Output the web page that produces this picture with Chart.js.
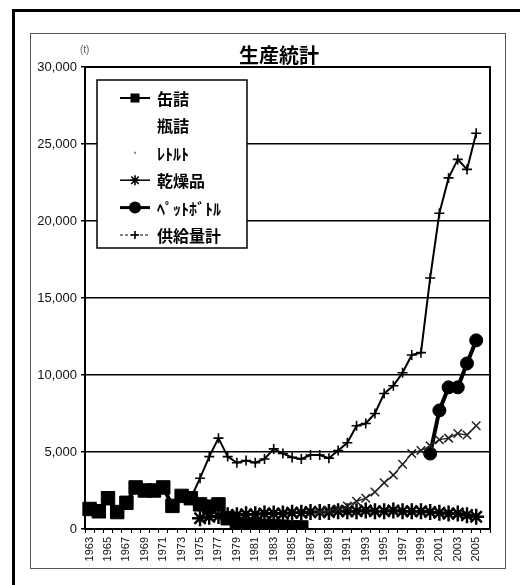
<!DOCTYPE html>
<html lang="ja">
<head>
<meta charset="utf-8">
<title>生産統計</title>
<script src="https://cdn.jsdelivr.net/npm/chart.js@4.4.1/dist/chart.umd.min.js"></script>
<style>
  html, body { margin: 0; padding: 0; background: #fff; }
  #chart { display: block; }
</style>
</head>
<body>
<canvas id="chart" width="520" height="585"></canvas>
<script>
// ═══════════════════════════════════════════════════════════
//  Data (t), 1963 - 2006
// ═══════════════════════════════════════════════════════════

var years = [
    '1963', '1964', '1965', '1966', '1967', '1968', '1969', '1970', '1971', '1972',
    '1973', '1974', '1975', '1976', '1977', '1978', '1979', '1980', '1981', '1982',
    '1983', '1984', '1985', '1986', '1987', '1988', '1989', '1990', '1991', '1992',
    '1993', '1994', '1995', '1996', '1997', '1998', '1999', '2000', '2001', '2002',
    '2003', '2004', '2005', '2006'
];

var seriesNames = ['缶詰', '瓶詰', 'ﾚﾄﾙﾄ', '乾燥品', 'ﾍﾟｯﾄﾎﾞﾄﾙ', '供給量計'];

var canned = [
    1300, 1150, 2000, 1100, 1700, 2700, 2500, 2500, 2700, 1500,
    2150, 2000, 1600, 1450, 1600, 700, 300, 250, 250, 200,
    200, 150, 100, 100, null, null, null, null, null, null,
    null, null, null, null, null, null, null, null, null, null,
    null, null, null, null
];

// 瓶詰: line did not survive in the picture
var bottled = [
    null, null, null, null, null, null, null, null, null, null,
    null, null, null, null, null, null, null, null, null, null,
    null, null, null, null, null, null, null, null, null, null,
    null, null, null, null, null, null, null, null, null, null,
    null, null, null, null
];

var retort = [
    null, null, null, null, null, null, null, null, null, null,
    null, null, null, null, null, null, null, null, null, null,
    null, null, null, null, null, 1100, 1200, 1300, 1500, 1800,
    2000, 2400, 3000, 3500, 4200, 4900, 5100, 5400, 5800, 5900,
    6200, 6100, 6700, null
];

var dried = [
    null, null, null, null, null, null, null, null, null, null,
    null, null, 700, 800, 850, 900, 900, 950, 950, 1000,
    1000, 1000, 1050, 1050, 1100, 1100, 1100, 1150, 1150, 1150,
    1200, 1150, 1150, 1200, 1150, 1150, 1150, 1100, 1050, 1000,
    1000, 900, 800, null
];

var petBottle = [
    null, null, null, null, null, null, null, null, null, null,
    null, null, null, null, null, null, null, null, null, null,
    null, null, null, null, null, null, null, null, null, null,
    null, null, null, null, null, null, null, 4900, 7700, 9200,
    9200, 10750, 12250, null
];

var supplyTotal = [
    1300, 1150, 2000, 1100, 1700, 2700, 2500, 2500, 2700, 1500,
    2150, 2000, 3300, 4700, 5900, 4700, 4300, 4450, 4300, 4550,
    5200, 4900, 4650, 4550, 4800, 4800, 4600, 5100, 5600, 6700,
    6850, 7500, 8800, 9300, 10150, 11300, 11450, 16300, 20500, 22800,
    24000, 23350, 25700, null
];

var yTicks = [0, 5000, 10000, 15000, 20000, 25000, 30000];

// ═══════════════════════════════════════════════════════════
//  Marker drawing (legend samples)
// ═══════════════════════════════════════════════════════════

function drawMarker(ctx, style, x, y, r) {
    ctx.beginPath();
    if (style === 'rect') {
        ctx.fillRect(x - r, y - r, r * 2, r * 2);
        return;
    }
    if (style === 'circle') {
        ctx.arc(x, y, r, 0, Math.PI * 2);
        ctx.fill();
        return;
    }
    if (style === 'cross' || style === 'star') {
        ctx.moveTo(x - r, y); ctx.lineTo(x + r, y);
        ctx.moveTo(x, y - r); ctx.lineTo(x, y + r);
    }
    if (style === 'crossRot' || style === 'star') {
        var d = r * 0.75;
        ctx.moveTo(x - d, y - d); ctx.lineTo(x + d, y + d);
        ctx.moveTo(x - d, y + d); ctx.lineTo(x + d, y - d);
    }
    ctx.stroke();
}

var legendItems = [
    { line: 2, marker: 'rect', r: 4.5 },
    { line: 0, marker: null },
    { line: 0, marker: 'dot' },
    { line: 1.5, marker: 'star', r: 5 },
    { line: 3, marker: 'circle', r: 6 },
    { line: 1, marker: 'cross', r: 4, dash: [3, 2] }
];

// ═══════════════════════════════════════════════════════════
//  Frames, title, unit and the boxed legend
// ═══════════════════════════════════════════════════════════

var decorPlugin = {
    id: 'decor',
    beforeDraw: function (chart) {
        var ctx = chart.ctx;
        ctx.save();
        ctx.fillStyle = '#fff';
        ctx.fillRect(0, 0, chart.width, chart.height);

        // outer heavy frame
        ctx.strokeStyle = '#000';
        ctx.lineWidth = 3;
        ctx.beginPath();
        ctx.moveTo(13.5, 585);
        ctx.lineTo(13.5, 10.5);
        ctx.lineTo(520, 10.5);
        ctx.stroke();

        // inner light frame
        ctx.strokeStyle = '#555';
        ctx.lineWidth = 1;
        ctx.strokeRect(30.5, 33.5, 475, 535);
        ctx.restore();
    },
    afterDraw: function (chart) {
        var ctx = chart.ctx;
        var area = chart.chartArea;
        ctx.save();

        // plot border top / right
        ctx.strokeStyle = '#000';
        ctx.lineWidth = 2;
        ctx.beginPath();
        ctx.moveTo(area.left, area.top);
        ctx.lineTo(area.right, area.top);
        ctx.lineTo(area.right, area.bottom);
        ctx.stroke();

        // title
        ctx.fillStyle = '#000';
        ctx.textAlign = 'center';
        ctx.textBaseline = 'alphabetic';
        ctx.font = 'bold 20px "Noto Sans CJK JP"';
        ctx.fillText('生産統計', 279, 63);

        // unit
        ctx.fillStyle = '#666';
        ctx.font = '10px "Liberation Sans"';
        ctx.textAlign = 'left';
        ctx.fillText('(t)', 80, 53);

        // legend box
        var bx = 97, by = 80, bw = 150, bh = 168;
        ctx.fillStyle = '#fff';
        ctx.fillRect(bx, by, bw, bh);
        ctx.strokeStyle = '#000';
        ctx.lineWidth = 1.5;
        ctx.strokeRect(bx, by, bw, bh);

        ctx.font = 'bold 16px "Noto Sans CJK JP"';
        ctx.textBaseline = 'middle';
        for (var i = 0; i < seriesNames.length; i++) {
            var item = legendItems[i];
            var y = 98 + i * 27.4;
            ctx.strokeStyle = '#000';
            ctx.fillStyle = '#000';
            if (item.line) {
                ctx.lineWidth = item.line;
                ctx.setLineDash(item.dash || []);
                ctx.beginPath();
                ctx.moveTo(120, y);
                ctx.lineTo(150, y);
                ctx.stroke();
                ctx.setLineDash([]);
            }
            if (item.marker === 'dot') {
                ctx.fillStyle = '#888';
                ctx.fillRect(134, y - 1, 2, 2);
            } else if (item.marker) {
                ctx.lineWidth = 1.6;
                drawMarker(ctx, item.marker, 135, y, item.r);
            }
            ctx.fillStyle = '#000';
            ctx.fillText(seriesNames[i], 157, y + 1);
        }
        ctx.restore();
    }
};

// ═══════════════════════════════════════════════════════════
//  Chart
// ═══════════════════════════════════════════════════════════

function lineSet(label, data, style) {
    return {
        label: label,
        data: data,
        borderColor: style.color || '#000',
        backgroundColor: style.color || '#000',
        borderWidth: style.width,
        pointStyle: style.point,
        pointRadius: style.radius,
        pointBorderWidth: style.pointWidth || 1,
        pointBackgroundColor: style.color || '#000',
        pointBorderColor: style.color || '#000',
        tension: 0,
        spanGaps: false,
        fill: false
    };
}

new Chart(document.getElementById('chart').getContext('2d'), {
    type: 'line',
    data: {
        labels: years,
        datasets: [
            lineSet(seriesNames[0], canned, { width: 4, point: 'rect', radius: 9.5 }),
            lineSet(seriesNames[1], bottled, { width: 1, point: false, radius: 0 }),
            lineSet(seriesNames[2], retort, { width: 1.3, point: 'crossRot', radius: 6, pointWidth: 1.5, color: '#222' }),
            lineSet(seriesNames[3], dried, { width: 2.5, point: 'star', radius: 8, pointWidth: 2.5 }),
            lineSet(seriesNames[4], petBottle, { width: 4, point: 'circle', radius: 6.5 }),
            lineSet(seriesNames[5], supplyTotal, { width: 2, point: 'cross', radius: 5, pointWidth: 1.6 })
        ]
    },
    options: {
        responsive: false,
        animation: false,
        devicePixelRatio: 1,
        layout: { padding: { left: 30, right: 30, top: 67, bottom: 20 } },
        plugins: {
            legend: { display: false },
            tooltip: { enabled: false },
            title: { display: false }
        },
        scales: {
            x: {
                type: 'category',
                offset: true,
                afterFit: function (scale) { scale.height = 36; },
                grid: { display: true, drawOnChartArea: false, drawTicks: true, tickLength: 4, color: '#000', offset: true },
                border: { display: true, color: '#000', width: 2 },
                ticks: {
                    autoSkip: false,
                    minRotation: 90,
                    maxRotation: 90,
                    padding: 4,
                    color: '#111',
                    font: { family: 'Liberation Sans', size: 11 },
                    callback: function (value, index) {
                        return index % 2 === 0 ? years[index] : '';
                    }
                }
            },
            y: {
                min: yTicks[0],
                max: yTicks[yTicks.length - 1],
                afterFit: function (scale) { scale.width = 55; },
                afterBuildTicks: function (scale) {
                    scale.ticks = yTicks.map(function (v) { return { value: v }; });
                },
                grid: { color: '#000', lineWidth: 1.5, drawTicks: true, tickLength: 4 },
                border: { display: true, color: '#000', width: 2 },
                ticks: {
                    padding: 4,
                    color: '#111',
                    font: { family: 'Liberation Sans', size: 13 },
                    callback: function (value) {
                        return Number(value).toLocaleString('en-US');
                    }
                }
            }
        }
    },
    plugins: [decorPlugin]
});
</script>
</body>
</html>
